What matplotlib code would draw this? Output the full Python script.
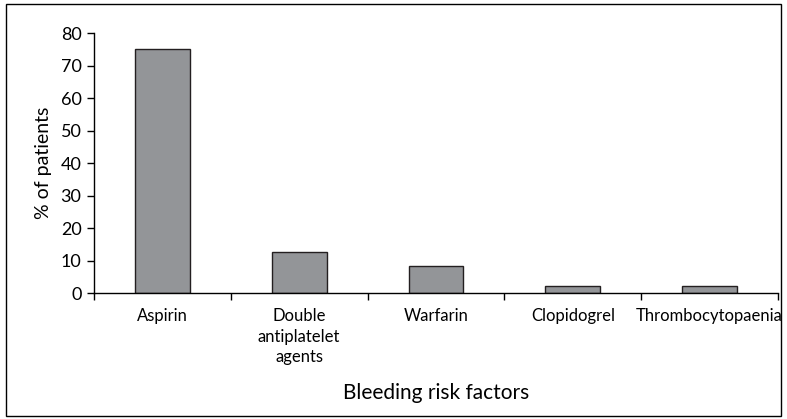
import numpy as np
import matplotlib.pyplot as plt
from matplotlib.patches import Rectangle

# bleeding risk factors, % of patients
categories = ['Aspirin', 'Double\nantiplatelet\nagents', 'Warfarin',
              'Clopidogrel', 'Thrombocytopaenia']
values = [75.0, 12.5, 8.3, 2.1, 2.1]
yticks = [0, 10, 20, 30, 40, 50, 60, 70, 80]

plt.rcParams['font.family'] = ['Lato', 'DejaVu Sans']

fig = plt.figure(figsize=(7.87, 4.19), dpi=100)
ax = fig.add_axes([0.1194, 0.3007, 0.8692, 0.6205])

x = np.arange(len(categories))
ax.bar(x, values, width=0.4, color='#939598', edgecolor='#231f20', linewidth=1.0)

ax.set_xlim(-0.5, len(categories) - 0.5)
ax.set_ylim(0, 80)
ax.set_yticks(yticks)
ax.tick_params(axis='y', labelsize=13, direction='out', length=5, width=1, pad=4)

# ticks sit on category boundaries, labels at centres
ax.set_xticks(np.arange(len(categories) + 1) - 0.5)
ax.set_xticklabels([])
ax.set_xticks(x, minor=True)
ax.set_xticklabels(categories, minor=True, fontsize=12, linespacing=1.35)
ax.tick_params(axis='x', which='minor', length=0, pad=11)
ax.tick_params(axis='x', which='major', direction='out', length=5, width=1)

for side in ['top', 'right']:
    ax.spines[side].set_visible(False)
for side in ['left', 'bottom']:
    ax.spines[side].set_linewidth(1)

ax.set_ylabel('% of patients', fontsize=14, labelpad=6)
fig.text(0.554, 0.063, 'Bleeding risk factors', fontsize=15, ha='center', va='center')

# outer frame
fig.patches.append(Rectangle((0.007, 0.008), 0.986, 0.982, transform=fig.transFigure,
                             fill=False, edgecolor='black', linewidth=1))

fig.savefig('out.png', dpi=100)
